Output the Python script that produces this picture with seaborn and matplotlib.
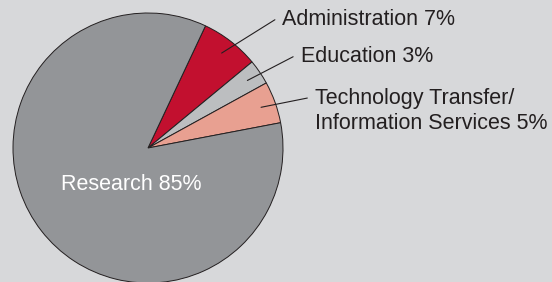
import numpy as np
import matplotlib
matplotlib.use("Agg")
import matplotlib.pyplot as plt
import seaborn as sns

# slice data, clockwise from the top of the red wedge
categories = ["Administration", "Education", "Technology Transfer/\nInformation Services", "Research"]
shares = [7, 3, 5, 85]
colors = ["#c2102f", "#bcbec0", "#e8a091", "#939598"]

BG = "#d7d8da"
INK = "#231f20"

sns.set_style("white")
plt.rcParams["font.family"] = ["Liberation Sans", "DejaVu Sans"]

fig = plt.figure(figsize=(5.52, 2.82), dpi=100)
fig.patch.set_facecolor(BG)
# square axes of 270x270 px, centered on pixel (148, 148)
ax = fig.add_axes([13 / 552, -1 / 282, 270 / 552, 270 / 282])
ax.set_facecolor(BG)

wedges, _ = ax.pie(
    shares,
    colors=colors,
    startangle=64.8,
    counterclock=False,
    radius=1,
    wedgeprops=dict(edgecolor=INK, linewidth=0.7),
)
ax.set_xlim(-1, 1)
ax.set_ylim(-1, 1)
ax.axis("off")

# leader line ends (data coords) for the three small slices
line_ends = [(0.94, 0.95), (1.075, 0.676), (1.18, 0.37)]
line_gap = 0.185  # distance between text lines in data units
for w, lab, val, end in zip(wedges[:3], categories[:3], shares[:3], line_ends):
    mid = np.deg2rad((w.theta1 + w.theta2) / 2)
    start = (0.89 * np.cos(mid), 0.89 * np.sin(mid))
    ax.plot([start[0], end[0]], [start[1], end[1]], color=INK, lw=0.8, clip_on=False)
    n_lines = lab.count("\n") + 1
    ax.text(end[0] + 0.055, end[1] - (n_lines - 1) * line_gap / 2, f"{lab} {val}%",
            ha="left", va="center", fontsize=15.5, color=INK, linespacing=1.25,
            clip_on=False)

ax.text(-0.126, -0.272, f"{categories[3]} {shares[3]}%", ha="center", va="center",
        fontsize=15.5, color="white")

plt.savefig("out.png", dpi=100, facecolor=BG)
